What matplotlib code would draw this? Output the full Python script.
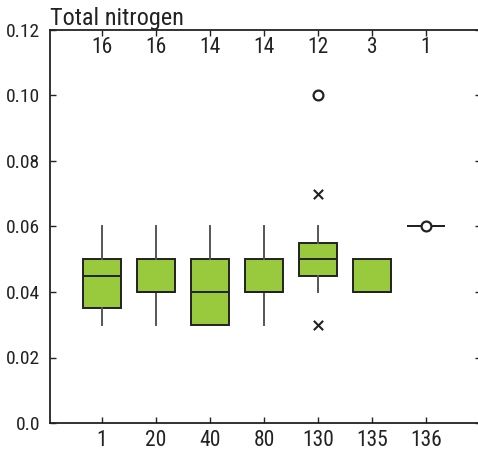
import matplotlib
matplotlib.use("Agg")
import matplotlib.pyplot as plt
from matplotlib import font_manager

# narrow sans face, like the original condensed type
names = {f.name for f in font_manager.fontManager.ttflist}
narrow = [n for n in ["Liberation Sans Narrow", "Roboto Condensed",
                      "Open Sans Condensed", "DejaVu Sans"] if n in names]
plt.rcParams["font.family"] = narrow
plt.rcParams["font.stretch"] = "condensed"

# --- data ---
sites = ["1", "20", "40", "80", "130", "135", "136"]
counts = [16, 16, 14, 14, 12, 3, 1]
whis_lo = [0.03, 0.03, 0.03, 0.03, 0.04, 0.04, 0.06]
q1 = [0.035, 0.04, 0.03, 0.04, 0.045, 0.04, 0.06]
med = [0.045, 0.04, 0.04, 0.04, 0.05, 0.04, 0.06]
q3 = [0.05, 0.05, 0.05, 0.05, 0.055, 0.05, 0.06]
whis_hi = [0.06, 0.06, 0.06, 0.06, 0.06, 0.05, 0.06]

# outside values (x) and far-outside / single values (o)
x_pos = [5, 5]
x_val = [0.07, 0.03]
o_pos = [5, 7]
o_val = [0.10, 0.06]

GREEN = "#99c93c"
DARK = "#222222"

fig = plt.figure(figsize=(4.78, 4.5), dpi=100)
ax = fig.add_axes([50 / 478, 1 - 423 / 450, 1 - 50 / 478, (423 - 30) / 450])

positions = list(range(1, len(sites) + 1))
stats = []
for i in range(len(sites)):
    stats.append({"whislo": whis_lo[i], "q1": q1[i], "med": med[i],
                  "q3": q3[i], "whishi": whis_hi[i], "fliers": []})

ax.bxp(stats, positions=positions, widths=0.7, patch_artist=True,
       showcaps=False, showfliers=False,
       boxprops=dict(facecolor=GREEN, edgecolor=DARK, linewidth=1.4),
       medianprops=dict(color=DARK, linewidth=1.4),
       whiskerprops=dict(color="#555555", linewidth=1.4))

ax.scatter(x_pos, x_val, marker="x", s=45, color=DARK, linewidths=1.5, zorder=5)
ax.scatter(o_pos, o_val, marker="o", s=50, facecolors="white",
           edgecolors=DARK, linewidths=1.6, zorder=5)

for p, n in zip(positions, counts):
    ax.text(p, 0.1147, str(n), ha="center", va="center", fontsize=15.5,
            color=DARK)

ax.set_xlim(0.04, 7.96)
ax.set_ylim(0, 0.12)
ax.set_yticks([0.0, 0.02, 0.04, 0.06, 0.08, 0.10, 0.12])
ax.set_yticklabels(["0.0", "0.02", "0.04", "0.06", "0.08", "0.10", "0.12"])
ax.set_xticks(positions)
ax.set_xticklabels(sites)

ax.spines["right"].set_visible(False)
for s in ["left", "bottom", "top"]:
    ax.spines[s].set_color(DARK)
    ax.spines[s].set_linewidth(1.3)

ax.tick_params(axis="both", direction="in", length=4, width=1.0,
               colors=DARK, labelsize=14)
ax.tick_params(axis="x", top=True, pad=5, labelsize=15.5)
ax.tick_params(axis="y", pad=7, right=True)
for t in ax.yaxis.get_major_ticks():
    t.tick2line.set_color("#cccccc")
    t.tick2line.set_markersize(2.5)

fig.text(50 / 478, 1 - 18 / 450, "Total nitrogen", ha="left", va="center",
         fontsize=17.5, color=DARK)

fig.savefig("out.png", dpi=100)
